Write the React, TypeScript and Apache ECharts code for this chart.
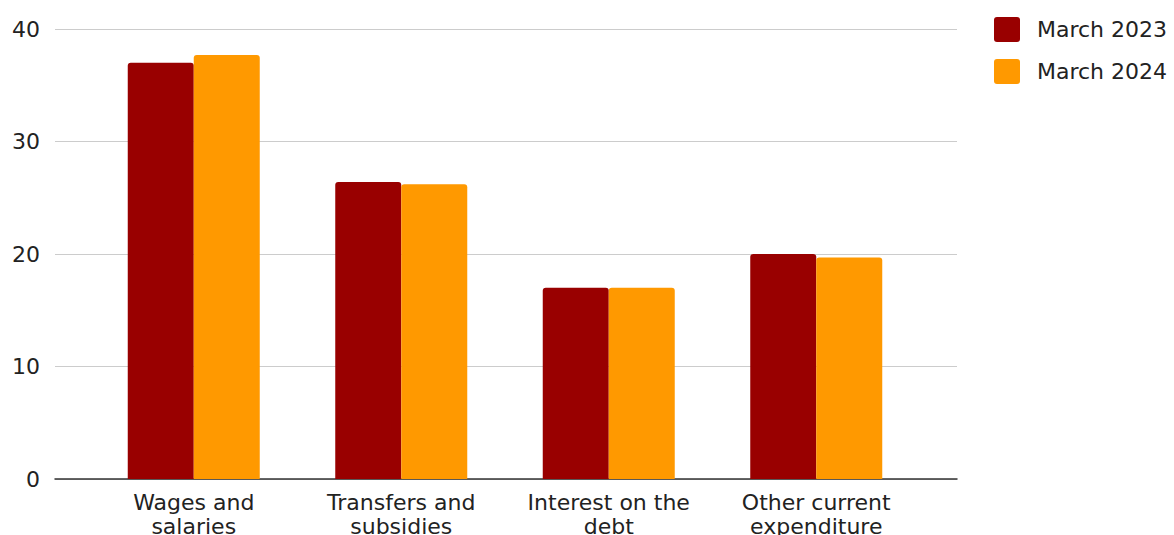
import React, { useEffect, useRef } from "react";
import * as echarts from "echarts";

const categories = [
  "Wages and\nsalaries",
  "Transfers and\nsubsidies",
  "Interest on the\ndebt",
  "Other current\nexpenditure",
];
const march2023 = [37.0, 26.4, 17.0, 20.0];
const march2024 = [37.7, 26.2, 17.0, 19.7];
const yTicks = { min: 0, max: 40, interval: 10 };

const FONT = "DejaVu Sans";
const LEGEND_ICON =
  "path://M3,0 H23 Q26,0 26,3 V22 Q26,25 23,25 H3 Q0,25 0,22 V3 Q0,0 3,0 Z";

export default function App() {
  const ref = useRef<HTMLDivElement>(null);
  useEffect(() => {
    if (!ref.current) return;
    const chart = echarts.init(ref.current, null, { renderer: "svg" });
    chart.setOption({
      animation: false,
      backgroundColor: "#ffffff",
      textStyle: { fontFamily: FONT },
      legend: {
        orient: "vertical",
        left: 994,
        top: 17,
        padding: 0,
        itemWidth: 26,
        itemHeight: 25,
        itemGap: 17,
        icon: LEGEND_ICON,
        textStyle: { fontSize: 22, color: "#222", fontFamily: FONT, padding: [0, 0, 0, 12] },
        data: ["March 2023", "March 2024"],
      },
      grid: [
        { left: 90, right: 254, top: 29, bottom: 56, outerBoundsMode: "none", containLabel: false },
        { left: 55, right: 217, top: 29, bottom: 56, outerBoundsMode: "none", containLabel: false },
      ],
      xAxis: [
        {
          type: "category",
          gridIndex: 0,
          data: categories,
          axisLine: { show: false },
          axisTick: { show: false },
          axisLabel: {
            fontSize: 22,
            lineHeight: 24,
            color: "#222",
            margin: 11,
            fontFamily: FONT,
            interval: 0,
          },
        },
        {
          type: "value",
          gridIndex: 1,
          min: 0,
          max: 1,
          axisLine: { show: true, onZero: true, lineStyle: { color: "#333", width: 1.5 } },
          axisTick: { show: false },
          axisLabel: { show: false },
          splitLine: { show: false },
        },
      ],
      yAxis: [
        {
          type: "value",
          gridIndex: 0,
          min: yTicks.min,
          max: yTicks.max,
          interval: yTicks.interval,
          axisLine: { show: false },
          axisTick: { show: false },
          axisLabel: { show: false },
          splitLine: { show: false },
        },
        {
          type: "value",
          gridIndex: 1,
          min: yTicks.min,
          max: yTicks.max,
          interval: yTicks.interval,
          axisLine: { show: false },
          axisTick: { show: false },
          axisLabel: { fontSize: 22, color: "#222", margin: 15, fontFamily: FONT },
          splitLine: { lineStyle: { color: "#cccccc", width: 1 } },
        },
      ],
      series: [
        {
          name: "March 2023",
          type: "bar",
          xAxisIndex: 0,
          yAxisIndex: 0,
          data: march2023,
          barWidth: 66,
          barGap: "0%",
          itemStyle: { color: "#990000", borderRadius: [3, 3, 0, 0] },
        },
        {
          name: "March 2024",
          type: "bar",
          xAxisIndex: 0,
          yAxisIndex: 0,
          data: march2024,
          barWidth: 66,
          barGap: "0%",
          itemStyle: { color: "#ff9900", borderRadius: [3, 3, 0, 0] },
        },
      ],
    });
    return () => chart.dispose();
  }, []);
  return (
    <div
      ref={ref}
      style={{ position: "fixed", left: 0, top: 0, width: 1174, height: 535 }}
    />
  );
}
